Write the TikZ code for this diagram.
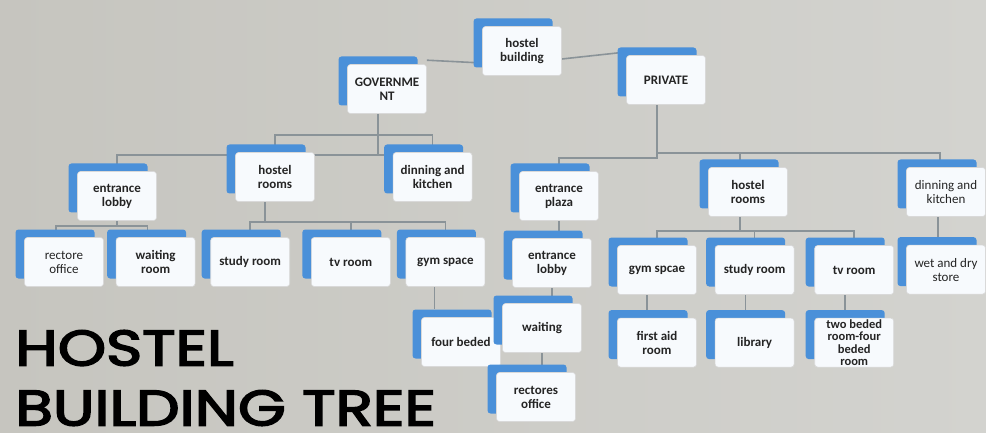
\documentclass[tikz,border=0pt]{standalone}
\usepackage{fontspec}
\setmainfont{Carlito}
\newfontfamily\titlefont[FakeBold=3]{Poppins}
\usetikzlibrary{positioning, shadows, calc, backgrounds}
\definecolor{cardBlue}{RGB}{74,144,217}
\definecolor{cardFace}{RGB}{247,250,253}
\definecolor{linkGray}{RGB}{138,147,152}
\definecolor{bgLeft}{RGB}{198,197,191}
\definecolor{bgRight}{RGB}{211,211,207}
\definecolor{textDark}{RGB}{36,36,36}
\tikzset{
    % Cards
    card/.style={rectangle, rounded corners=3pt, fill=cardFace, draw=gray!30, line width=0.6pt,
                 minimum width=79pt, minimum height=49pt, inner sep=1pt, align=center,
                 text=textDark, font=\fontsize{13}{14}\selectfont\bfseries,
                 copy shadow={shadow xshift=-9pt, shadow yshift=8pt, fill=cardBlue, draw=none}},
    cardLight/.style={card, font=\fontsize{13}{14}\selectfont},
    % Links & title
    link/.style={draw=linkGray, line width=1.6pt},
    title/.style={anchor=north west, inner sep=0pt, align=left, text=black,
                  transform shape, xscale=1.23,
                  font=\titlefont\fontsize{50}{60}\selectfont}
}

\begin{document}
\begin{tikzpicture}[x=1pt, y=-1pt]

% Top levels
\node[card] (hb) at (522,51) {hostel\\building};
\node[card] (gov) at (387,89) {GOVERNME\\NT};
\node[card] (priv) at (666,80) {PRIVATE};

% Government side
\node[card] (gLobby) at (117,196) {entrance\\lobby};
\node[card] (gRooms) at (275,177) {hostel\\rooms};
\node[card, right=78pt of gRooms] (gDine) {dinning and\\kitchen};
\node[cardLight] (gRect) at (64,262) {rectore\\office};
\node[card, right=12pt of gRect] (gWait) {waiting\\room};
\node[card, right=15pt of gWait] (gStudy) {study room};
\node[card, right=21pt of gStudy] (gTv) {tv room};
\node[card, right=15pt of gTv] (gGym) {gym space};
\node[card] (gFour) at (461,342) {four beded};

% Private side
\node[card] (pPlaza) at (559,196) {entrance\\plaza};
\node[card] (pLobby) at (552,263) {entrance\\lobby};
\node[card] (pWait) at (542,328) {waiting};
\node[card] (pRect) at (536,397) {rectores\\office};
\node[card] (pRooms) at (748,192) {hostel\\rooms};
\node[cardLight] (pDine) at (946,192) {dinning and\\kitchen};
\node[card] (pGym) at (657,270) {gym spcae};
\node[card, right=18pt of pGym] (pStudy) {study room};
\node[card, right=20pt of pStudy] (pTv) {tv room};
\node[cardLight, below=28pt of pDine] (pStore) {wet and dry\\store};
\node[card, below=23pt of pGym] (pAid) {first aid\\room};
\node[card, below=23pt of pStudy] (pLib) {library};
\node[card, below=23pt of pTv, inner sep=0pt, font=\fontsize{12.5}{12.5}\selectfont\bfseries] (pTwo) {two beded\\room-four\\beded\\room};

% Title
\node[title] (title) at (15,330) {HOSTEL\\BUILDING TREE};

% Background & links
\begin{scope}[on background layer]
    \fill[left color=bgLeft, right color=bgRight] (0,0) rectangle (986,433);
    \coordinate (gBus) at (0,155);
    \coordinate (gTop) at (0,135);
    \coordinate (gMid) at (0,222);
    \coordinate (gLow) at (0,226);
    \coordinate (pMid) at (0,231);
    % root
    \draw[link] ([yshift=4pt]gov.north east) -- ([yshift=-12pt]hb.west);
    \draw[link] ([yshift=-8pt]hb.east) -- ([yshift=28pt]priv.west);
    % government
    \draw[link] ($(gov.south)+(-9,0)$) |- (gBus -| gDine.north) -- (gDine.north);
    \draw[link] ($(gov.south)+(-9,0)$) |- (gBus -| gLobby.north) -- (gLobby.north);
    \draw[link] (gRooms.north) |- (gTop -| gDine.north) -- (gDine.north);
    \foreach \c in {gStudy, gTv, gGym}
        \draw[link] ($(gRooms.south)+(-10,0)$) |- (gMid -| \c.north) -- (\c.north);
    \foreach \c in {gRect, gWait}
        \draw[link] (gLobby.south) |- ($(gLow -| \c.north)+(-8,0)$) -- ++(0,12);
    \draw[link] ($(gGym.south)+(-11,0)$) -- ++(0,22);
    % private
    \draw[link] ($(priv.south)+(-9,0)$) -- ++(0,53) -| (pPlaza.north);
    \draw[link] ($(priv.south)+(-9,0)$) -- ++(0,48) -| ($(pDine.north)+(-6,0)$);
    \draw[link] ($(priv.south)+(-9,48)$) -| ($(pRooms.north)+(-8,0)$);
    \draw[link] (pPlaza.south) -- (pPlaza.south |- pLobby.north);
    \draw[link] (pLobby.south) -- (pLobby.south |- pWait.north);
    \draw[link] (pWait.south) -- (pWait.south |- pRect.north);
    \foreach \c in {pGym, pStudy, pTv}
        \draw[link] ($(pRooms.south)+(-8,0)$) |- (pMid -| \c.north) -- (\c.north);
    \draw[link] ($(pDine.south)+(-8,0)$) -- ++(0,30);
    \draw[link] ($(pGym.south)+(-10,0)$) -- ++(0,25);
    \draw[link] ($(pStudy.south)+(-9,0)$) -- ++(0,25);
    \draw[link] ($(pTv.south)+(-9,0)$) -- ++(0,25);
\end{scope}

\end{tikzpicture}
\end{document}
